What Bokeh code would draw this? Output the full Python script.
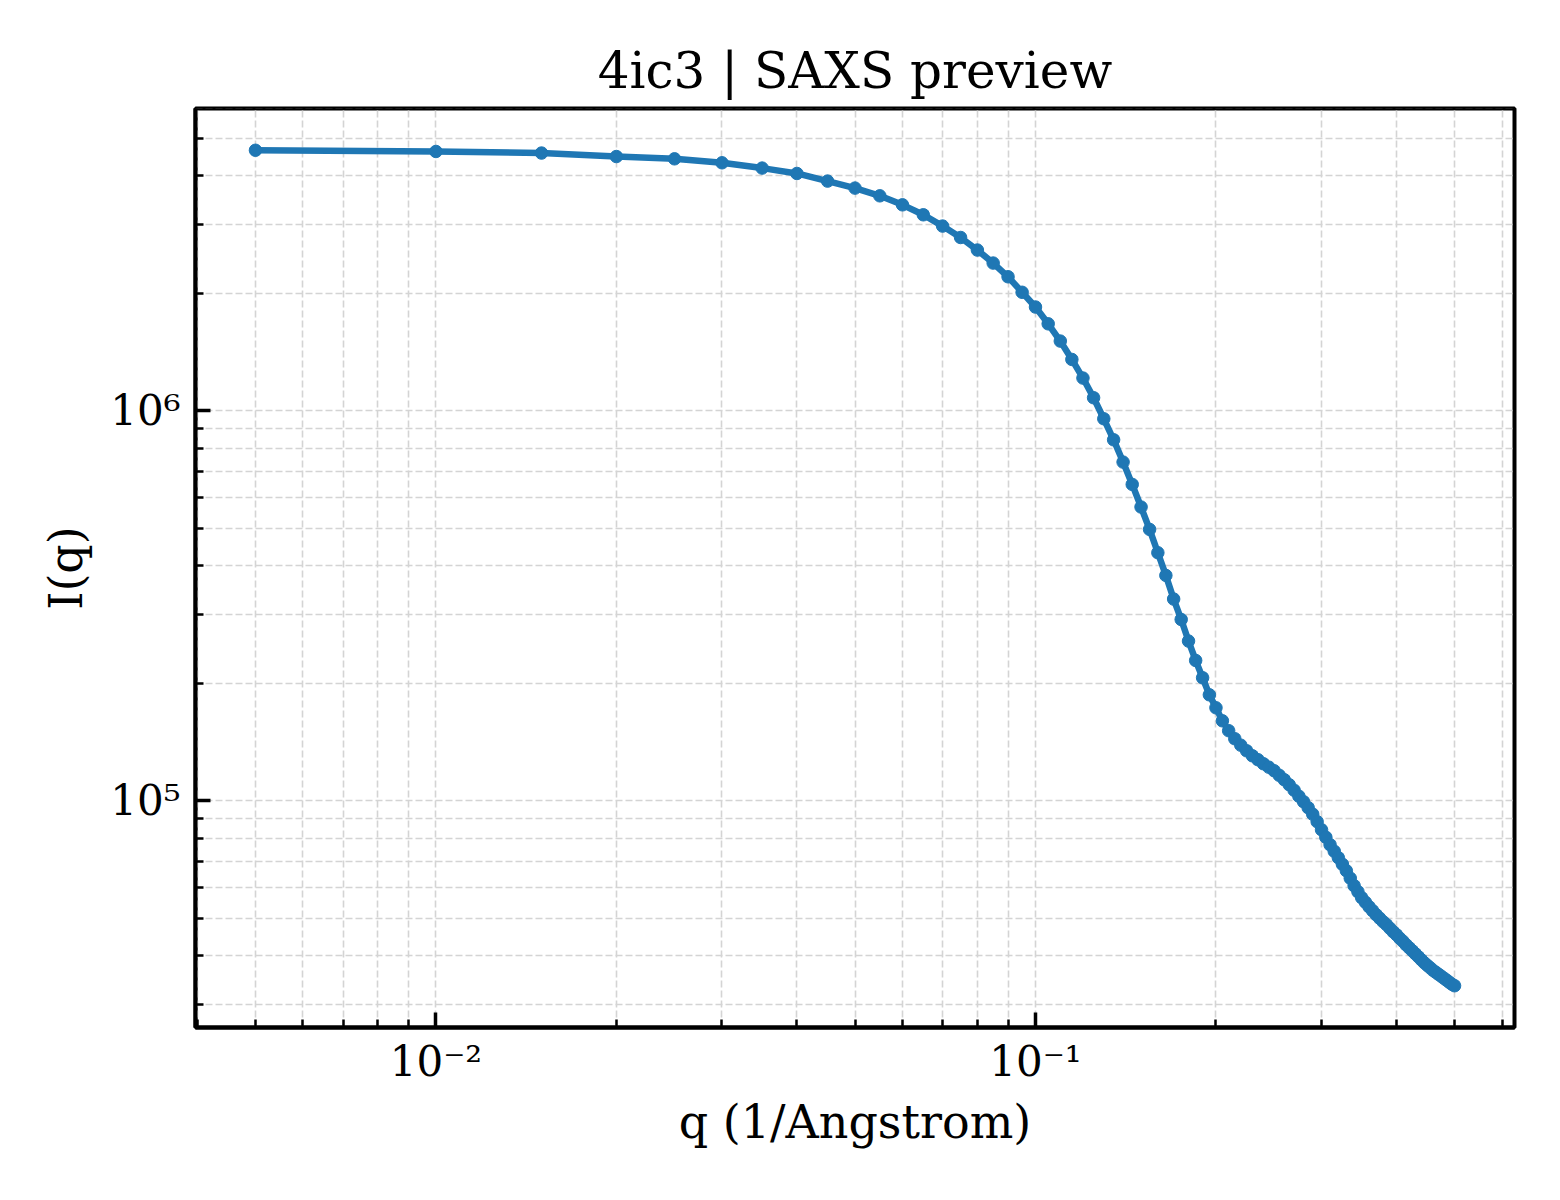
from bokeh.plotting import figure
from bokeh.models import Range1d, FixedTicker, CustomJSTickFormatter
from bokeh.embed import file_html
from bokeh.resources import INLINE
import math

q = [0.005, 0.01, 0.015, 0.02, 0.025, 0.03, 0.035, 0.04, 0.045, 0.05,
     0.055, 0.06, 0.065, 0.07, 0.075, 0.08, 0.085, 0.09, 0.095, 0.1,
     0.105, 0.11, 0.115, 0.12, 0.125, 0.13, 0.135, 0.14, 0.145, 0.15,
     0.155, 0.16, 0.165, 0.17, 0.175, 0.18, 0.185, 0.19, 0.195, 0.2,
     0.205, 0.21, 0.215, 0.22, 0.225, 0.23, 0.235, 0.24, 0.245, 0.25,
     0.255, 0.26, 0.265, 0.27, 0.275, 0.28, 0.285, 0.29, 0.295, 0.3,
     0.305, 0.31, 0.315, 0.32, 0.325, 0.33, 0.335, 0.34, 0.345, 0.35,
     0.355, 0.36, 0.365, 0.37, 0.375, 0.38, 0.385, 0.39, 0.395, 0.4,
     0.405, 0.41, 0.415, 0.42, 0.425, 0.43, 0.435, 0.44, 0.445, 0.45,
     0.455, 0.46, 0.465, 0.47, 0.475, 0.48, 0.485, 0.49, 0.495, 0.5]

intensity = [4.656e6, 4.623e6, 4.580e6, 4.487e6, 4.427e6, 4.324e6, 4.191e6, 4.060e6, 3.881e6, 3.724e6,
             3.558e6, 3.374e6, 3.181e6, 2.976e6, 2.782e6, 2.583e6, 2.392e6, 2.206e6, 2.013e6, 1.845e6,
             1.671e6, 1.509e6, 1.354e6, 1.213e6, 1.080e6, 9.539e5, 8.425e5, 7.385e5, 6.474e5, 5.664e5,
             4.962e5, 4.325e5, 3.782e5, 3.290e5, 2.916e5, 2.567e5, 2.289e5, 2.067e5, 1.869e5, 1.731e5,
             1.603e5, 1.512e5, 1.442e5, 1.388e5, 1.343e5, 1.304e5, 1.274e5, 1.244e5, 1.219e5, 1.194e5,
             1.162e5, 1.132e5, 1.099e5, 1.064e5, 1.027e5, 9.941e4, 9.595e4, 9.235e4, 8.835e4, 8.425e4,
             8.060e4, 7.711e4, 7.421e4, 7.142e4, 6.873e4, 6.614e4, 6.328e4, 6.054e4, 5.843e4, 5.640e4,
             5.492e4, 5.348e4, 5.223e4, 5.101e4, 4.997e4, 4.895e4, 4.809e4, 4.710e4, 4.614e4, 4.533e4,
             4.440e4, 4.362e4, 4.273e4, 4.198e4, 4.124e4, 4.052e4, 3.981e4, 3.911e4, 3.843e4, 3.786e4,
             3.731e4, 3.676e4, 3.633e4, 3.590e4, 3.548e4, 3.506e4, 3.465e4, 3.424e4, 3.384e4, 3.354e4]

title_text = "4ic3 | SAXS preview"
x_label = "q (1/Angstrom)"
y_label = "I(q)"
x_decades = [1e-3, 1e-2, 1e-1, 1.0]
y_decades = [1e4, 1e5, 1e6, 1e7]

FONT = "DejaVu Serif"
BLUE = "#1f77b4"


def log_pad(vals, frac=0.05):
    lo, hi = math.log10(min(vals)), math.log10(max(vals))
    d = (hi - lo) * frac
    return 10 ** (lo - d), 10 ** (hi + d)


xr = log_pad(q)
yr = log_pad(intensity)

p = figure(
    x_axis_type="log", y_axis_type="log",
    x_range=Range1d(*xr), y_range=Range1d(*yr),
    frame_width=1319, frame_height=919,
    min_border_left=195, min_border_right=30,
    min_border_top=108, min_border_bottom=150,
    output_backend="svg", toolbar_location=None,
    background_fill_color="white", border_fill_color="white",
)

p.title.text = title_text
p.title.text_font = FONT
p.title.text_font_size = "50px"
p.title.text_font_style = "normal"
p.title.align = "center"
p.title.text_color = "black"
p.title.standoff = 18

x_minor = [m * d for d in x_decades[:-1] for m in range(2, 10)]
y_minor = [m * d for d in y_decades[:-1] for m in range(2, 10)]

p.xaxis.ticker = FixedTicker(ticks=x_decades, minor_ticks=x_minor)
p.yaxis.ticker = FixedTicker(ticks=y_decades, minor_ticks=y_minor)

fmt_code = """
const e = Math.round(Math.log10(tick));
const sup = {'-':'\u207b','0':'\u2070','1':'\u00b9','2':'\u00b2','3':'\u00b3','4':'\u2074','5':'\u2075','6':'\u2076','7':'\u2077','8':'\u2078','9':'\u2079'};
return '10' + String(e).split('').map(c => sup[c]).join('');
"""
p.xaxis.formatter = CustomJSTickFormatter(code=fmt_code)
p.yaxis.formatter = CustomJSTickFormatter(code=fmt_code)

for ax in (p.xaxis[0], p.yaxis[0]):
    ax.axis_line_color = "black"
    ax.axis_line_width = 4
    ax.major_tick_in = 15
    ax.major_tick_out = 0
    ax.minor_tick_in = 8
    ax.minor_tick_out = 0
    ax.major_tick_line_width = 3.5
    ax.minor_tick_line_width = 2.5
    ax.major_tick_line_color = "black"
    ax.minor_tick_line_color = "black"
    ax.major_label_text_font = FONT
    ax.major_label_text_font_size = "42px"
    ax.major_label_text_color = "black"
    ax.axis_label_text_font = FONT
    ax.axis_label_text_font_size = "46px"
    ax.axis_label_text_font_style = "normal"
    ax.axis_label_text_color = "black"

p.xaxis.axis_label = x_label
p.yaxis.axis_label = y_label
p.xaxis.major_label_standoff = 9
p.yaxis.major_label_standoff = 15
p.xaxis.axis_label_standoff = 6
p.yaxis.axis_label_standoff = 14

for g in (p.xgrid[0], p.ygrid[0]):
    g.grid_line_color = "#d4d4d4"
    g.grid_line_width = 1.6
    g.grid_line_dash = "7 3"
    g.minor_grid_line_color = "#d4d4d4"
    g.minor_grid_line_width = 1.6
    g.minor_grid_line_dash = "7 3"

p.outline_line_color = "black"
p.outline_line_width = 4
p.outline_line_alpha = 1.0

p.line(q, intensity, line_color=BLUE, line_width=6.5)
p.scatter(q, intensity, size=12.5, fill_color=BLUE, line_color=BLUE)

with open("out.html", "w", encoding="utf-8") as f:
    f.write(file_html(p, INLINE))
